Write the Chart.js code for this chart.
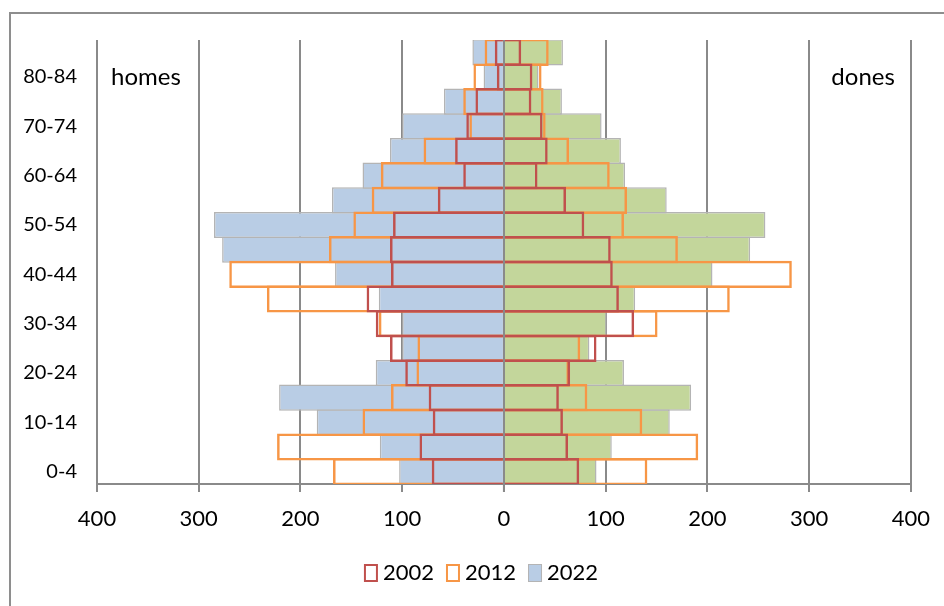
<!DOCTYPE html>
<html><head><meta charset="utf-8">
<script src="https://cdn.jsdelivr.net/npm/chart.js@4.4.0/dist/chart.umd.min.js"></script>
<style>
html,body{margin:0;padding:0;background:#fff;overflow:hidden}
#wrap{position:relative;width:944px;height:606px;overflow:hidden}
#frame{position:absolute;left:9px;top:12px;width:1000px;height:700px;border-left:2px solid #8e8e8e;border-top:2px solid #8e8e8e}
canvas{position:absolute;left:0;top:0}
</style></head><body>
<div id="wrap"><div id="frame"></div><canvas id="c" width="944" height="606"></canvas></div>
<script>
// Age groups, bottom to top
const ageGroups = ['0-4','5-9','10-14','15-19','20-24','25-29','30-34','35-39','40-44','45-49','50-54','55-59','60-64','65-69','70-74','75-79','80-84','85+'];
const years = ['2002','2012','2022'];
// homes (men)
const men2002 = [71, 83, 70, 74, 97, 112, 126, 135, 111, 112, 109, 65, 40, 48, 37, 28, 7, 9];
const men2012 = [168, 223, 139, 111, 86, 85, 123, 233, 270, 172, 148, 130, 121, 79, 34, 40, 30, 19];
const men2022 = [103, 122, 184, 221, 126, 100, 100, 123, 166, 277, 285, 169, 139, 112, 100, 59, 20, 31];
// dones (women)
const women2002 = [74, 63, 58, 54, 65, 91, 128, 113, 107, 105, 79, 61, 33, 43, 38, 27, 28, 17];
const women2012 = [141, 191, 136, 82, 64, 75, 151, 222, 283, 171, 118, 121, 104, 64, 41, 39, 37, 44];
const women2022 = [91, 106, 163, 184, 118, 84, 101, 129, 205, 242, 257, 160, 119, 115, 96, 57, 34, 58];
const xTicks = [-400,-300,-200,-100,0,100,200,300,400];

const FONT = 'Lato';
const GRID = '#8a8a8a';

function outline(label, data, color, legend) {
  return {label, data, backgroundColor:'rgba(0,0,0,0)', borderColor:color, borderWidth:2.5,
    borderSkipped:'start', grouped:false, categoryPercentage:1, barPercentage:1.1, inLegend:legend};
}
function filled(label, data, fill, legend) {
  return {label, data, backgroundColor:fill, borderColor:'#b4b4b4', borderWidth:1.5,
    borderSkipped:'start', grouped:false, categoryPercentage:1, barPercentage:1.06, inLegend:legend};
}

const datasets = [
  outline(years[0], men2002.map(v => -v), '#c0504d', true),
  outline(years[0], women2002, '#c0504d', false),
  outline(years[1], men2012.map(v => -v), '#f79646', true),
  outline(years[1], women2012, '#f79646', false),
  filled(years[2], men2022.map(v => -v), '#b9cde5', true),
  filled(years[2], women2022, '#c3d69b', false)
];

const zeroLine = {
  id:'zeroLine',
  afterDatasetsDraw(chart){
    const {ctx, chartArea, scales:{x}} = chart;
    const px = x.getPixelForValue(0);
    ctx.save();
    ctx.strokeStyle = GRID; ctx.lineWidth = 2;
    ctx.beginPath(); ctx.moveTo(px, chartArea.top); ctx.lineTo(px, chartArea.bottom + 8); ctx.stroke();
    ctx.restore();
  }
};
const sideLabels = {
  id:'sideLabels',
  afterDraw(chart){
    const {ctx, chartArea} = chart;
    ctx.save();
    ctx.font = '24px ' + FONT; ctx.fillStyle = '#000'; ctx.textBaseline = 'middle';
    ctx.textAlign = 'left'; ctx.fillText('homes', chartArea.left + 14, chartArea.top + 37);
    ctx.textAlign = 'right'; ctx.fillText('dones', chartArea.right - 16, chartArea.top + 37);
    ctx.restore();
  }
};
// legend drawn from the dataset styles
const bottomLegend = {
  id:'bottomLegend',
  afterDraw(chart){
    const {ctx} = chart;
    const items = chart.data.datasets.filter(d => d.inLegend);
    ctx.save();
    ctx.font = '22px ' + FONT; ctx.textBaseline = 'middle'; ctx.textAlign = 'left';
    const box = 14, boxH = 18, gap = 5, spacing = 12;
    const widths = items.map(d => ctx.measureText(d.label).width);
    const total = widths.reduce((a, w) => a + box + gap + w, 0) + spacing * (items.length - 1);
    let x = 481 - total / 2;
    const cy = 573;
    items.forEach((d, i) => {
      const lw = d.borderWidth > 2 ? 2 : 1;
      if (d.backgroundColor !== 'rgba(0,0,0,0)') { ctx.fillStyle = d.backgroundColor; ctx.fillRect(x, cy - boxH/2, box, boxH); }
      ctx.strokeStyle = d.borderColor; ctx.lineWidth = lw;
      ctx.strokeRect(x + lw/2, cy - boxH/2 + lw/2, box - lw, boxH - lw);
      ctx.fillStyle = '#000';
      ctx.fillText(d.label, x + box + gap, cy);
      x += box + gap + widths[i] + spacing;
    });
    ctx.restore();
  }
};

function draw(){
  new Chart(document.getElementById('c'), {
    type:'bar',
    data:{labels:ageGroups, datasets},
    options:{
      indexAxis:'y', responsive:false, animation:false,
      layout:{padding:{top:40, right:33, left:0, bottom:54}},
      plugins:{ tooltip:{enabled:false}, legend:{display:false} },
      scales:{
        x:{type:'linear', min:-400, max:400,
          afterBuildTicks: s => { s.ticks = xTicks.map(v => ({value:v})); },
          afterFit: s => { s.height = 68; },
          ticks:{callback: v => Math.abs(v), font:{family:FONT, size:22}, color:'#000', padding:14, maxRotation:0},
          grid:{color:GRID, lineWidth:2, tickLength:8},
          border:{color:GRID, width:2}},
        y:{type:'category', reverse:true,
          afterFit: s => { s.width = 97; },
          grid:{display:false, drawTicks:false, tickLength:0}, border:{display:false},
          ticks:{autoSkip:false, font:{family:FONT, size:20}, color:'#000', padding:20,
            callback: (v, i) => i % 2 === 0 ? ageGroups[i] : ''}}
      }
    },
    plugins:[zeroLine, sideLabels, bottomLegend]
  });
}
if (document.fonts && document.fonts.load) {
  Promise.all([document.fonts.load('22px Lato'), document.fonts.load('20px Lato')]).then(draw, draw);
} else { draw(); }
</script>
</body></html>
